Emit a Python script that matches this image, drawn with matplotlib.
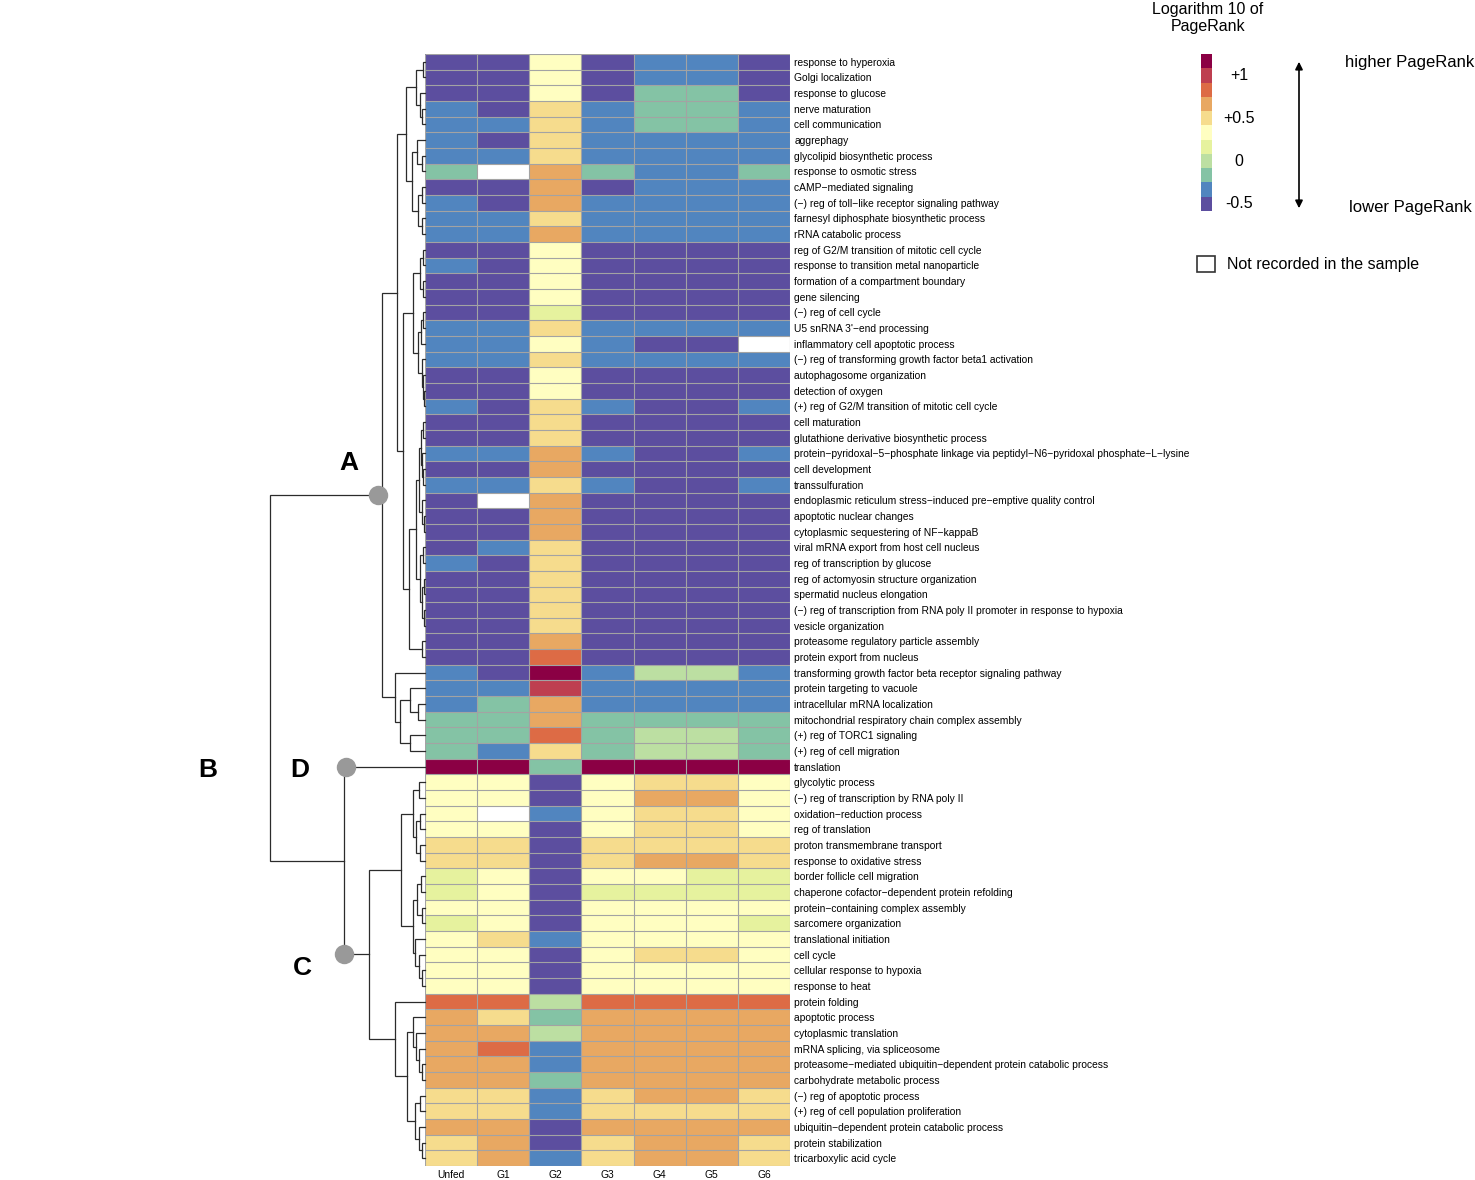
import numpy as np
import matplotlib
matplotlib.use("Agg")
import matplotlib.pyplot as plt
import matplotlib.transforms as mtransforms
from matplotlib.colors import ListedColormap, BoundaryNorm
from matplotlib.patches import Rectangle, FancyArrowPatch

plt.rcParams['font.family'] = ['Liberation Sans', 'DejaVu Sans']

# samples (columns) and GO terms (rows, top to bottom)
samples = ["Unfed", "G1", "G2", "G3", "G4", "G5", "G6"]
terms = [
    "response to hyperoxia",
    "Golgi localization",
    "response to glucose",
    "nerve maturation",
    "cell communication",
    "aggrephagy",
    "glycolipid biosynthetic process",
    "response to osmotic stress",
    "cAMP−mediated signaling",
    "(−) reg of toll−like receptor signaling pathway",
    "farnesyl diphosphate biosynthetic process",
    "rRNA catabolic process",
    "reg of G2/M transition of mitotic cell cycle",
    "response to transition metal nanoparticle",
    "formation of a compartment boundary",
    "gene silencing",
    "(−) reg of cell cycle",
    "U5 snRNA 3'−end processing",
    "inflammatory cell apoptotic process",
    "(−) reg of transforming growth factor beta1 activation",
    "autophagosome organization",
    "detection of oxygen",
    "(+) reg of G2/M transition of mitotic cell cycle",
    "cell maturation",
    "glutathione derivative biosynthetic process",
    "protein−pyridoxal−5−phosphate linkage via peptidyl−N6−pyridoxal phosphate−L−lysine",
    "cell development",
    "transsulfuration",
    "endoplasmic reticulum stress−induced pre−emptive quality control",
    "apoptotic nuclear changes",
    "cytoplasmic sequestering of NF−kappaB",
    "viral mRNA export from host cell nucleus",
    "reg of transcription by glucose",
    "reg of actomyosin structure organization",
    "spermatid nucleus elongation",
    "(−) reg of transcription from RNA poly II promoter in response to hypoxia",
    "vesicle organization",
    "proteasome regulatory particle assembly",
    "protein export from nucleus",
    "transforming growth factor beta receptor signaling pathway",
    "protein targeting to vacuole",
    "intracellular mRNA localization",
    "mitochondrial respiratory chain complex assembly",
    "(+) reg of TORC1 signaling",
    "(+) reg of cell migration",
    "translation",
    "glycolytic process",
    "(−) reg of transcription by RNA poly II",
    "oxidation−reduction process",
    "reg of translation",
    "proton transmembrane transport",
    "response to oxidative stress",
    "border follicle cell migration",
    "chaperone cofactor−dependent protein refolding",
    "protein−containing complex assembly",
    "sarcomere organization",
    "translational initiation",
    "cell cycle",
    "cellular response to hypoxia",
    "response to heat",
    "protein folding",
    "apoptotic process",
    "cytoplasmic translation",
    "mRNA splicing, via spliceosome",
    "proteasome−mediated ubiquitin−dependent protein catabolic process",
    "carbohydrate metabolic process",
    "(−) reg of apoptotic process",
    "(+) reg of cell population proliferation",
    "ubiquitin−dependent protein catabolic process",
    "protein stabilization",
    "tricarboxylic acid cycle",
]

nan = np.nan
# log10 PageRank, one row per term, columns = samples (nan = not recorded)
log_pagerank = [
    [-0.5, -0.5, 0.33, -0.5, -0.33, -0.33, -0.5],
    [-0.5, -0.5, 0.33, -0.5, -0.33, -0.33, -0.5],
    [-0.5, -0.5, 0.33, -0.5, -0.17, -0.17, -0.5],
    [-0.33, -0.5, 0.5, -0.33, -0.17, -0.17, -0.33],
    [-0.33, -0.33, 0.5, -0.33, -0.17, -0.17, -0.33],
    [-0.33, -0.5, 0.5, -0.33, -0.33, -0.33, -0.33],
    [-0.33, -0.33, 0.5, -0.33, -0.33, -0.33, -0.33],
    [-0.17, nan, 0.67, -0.17, -0.33, -0.33, -0.17],
    [-0.5, -0.5, 0.67, -0.5, -0.33, -0.33, -0.33],
    [-0.33, -0.5, 0.67, -0.33, -0.33, -0.33, -0.33],
    [-0.33, -0.33, 0.5, -0.33, -0.33, -0.33, -0.33],
    [-0.33, -0.33, 0.67, -0.33, -0.33, -0.33, -0.33],
    [-0.5, -0.5, 0.33, -0.5, -0.5, -0.5, -0.5],
    [-0.33, -0.5, 0.33, -0.5, -0.5, -0.5, -0.5],
    [-0.5, -0.5, 0.33, -0.5, -0.5, -0.5, -0.5],
    [-0.5, -0.5, 0.33, -0.5, -0.5, -0.5, -0.5],
    [-0.5, -0.5, 0.17, -0.5, -0.5, -0.5, -0.5],
    [-0.33, -0.33, 0.5, -0.33, -0.33, -0.33, -0.33],
    [-0.33, -0.33, 0.33, -0.33, -0.5, -0.5, nan],
    [-0.33, -0.33, 0.5, -0.33, -0.33, -0.33, -0.33],
    [-0.5, -0.5, 0.33, -0.5, -0.5, -0.5, -0.5],
    [-0.5, -0.5, 0.33, -0.5, -0.5, -0.5, -0.5],
    [-0.33, -0.5, 0.5, -0.33, -0.5, -0.5, -0.33],
    [-0.5, -0.5, 0.5, -0.5, -0.5, -0.5, -0.5],
    [-0.5, -0.5, 0.5, -0.5, -0.5, -0.5, -0.5],
    [-0.33, -0.33, 0.67, -0.33, -0.5, -0.5, -0.33],
    [-0.5, -0.5, 0.67, -0.5, -0.5, -0.5, -0.5],
    [-0.33, -0.33, 0.5, -0.33, -0.5, -0.5, -0.33],
    [-0.5, nan, 0.67, -0.5, -0.5, -0.5, -0.5],
    [-0.5, -0.5, 0.67, -0.5, -0.5, -0.5, -0.5],
    [-0.5, -0.5, 0.67, -0.5, -0.5, -0.5, -0.5],
    [-0.5, -0.33, 0.5, -0.5, -0.5, -0.5, -0.5],
    [-0.33, -0.5, 0.5, -0.5, -0.5, -0.5, -0.5],
    [-0.5, -0.5, 0.5, -0.5, -0.5, -0.5, -0.5],
    [-0.5, -0.5, 0.5, -0.5, -0.5, -0.5, -0.5],
    [-0.5, -0.5, 0.5, -0.5, -0.5, -0.5, -0.5],
    [-0.5, -0.5, 0.5, -0.5, -0.5, -0.5, -0.5],
    [-0.5, -0.5, 0.67, -0.5, -0.5, -0.5, -0.5],
    [-0.5, -0.5, 0.83, -0.5, -0.5, -0.5, -0.5],
    [-0.33, -0.5, 1.17, -0.33, 0.0, 0.0, -0.33],
    [-0.33, -0.33, 1.0, -0.33, -0.33, -0.33, -0.33],
    [-0.33, -0.17, 0.67, -0.33, -0.33, -0.33, -0.33],
    [-0.17, -0.17, 0.67, -0.17, -0.17, -0.17, -0.17],
    [-0.17, -0.17, 0.83, -0.17, 0.0, 0.0, -0.17],
    [-0.17, -0.33, 0.5, -0.17, 0.0, 0.0, -0.17],
    [1.17, 1.17, -0.17, 1.17, 1.17, 1.17, 1.17],
    [0.33, 0.33, -0.5, 0.33, 0.5, 0.5, 0.33],
    [0.33, 0.33, -0.5, 0.33, 0.67, 0.67, 0.33],
    [0.33, nan, -0.33, 0.33, 0.5, 0.5, 0.33],
    [0.33, 0.33, -0.5, 0.33, 0.5, 0.5, 0.33],
    [0.5, 0.5, -0.5, 0.5, 0.5, 0.5, 0.5],
    [0.5, 0.5, -0.5, 0.5, 0.67, 0.67, 0.5],
    [0.17, 0.33, -0.5, 0.33, 0.33, 0.17, 0.17],
    [0.17, 0.33, -0.5, 0.17, 0.17, 0.17, 0.17],
    [0.33, 0.33, -0.5, 0.33, 0.33, 0.33, 0.33],
    [0.17, 0.33, -0.5, 0.33, 0.33, 0.33, 0.17],
    [0.33, 0.5, -0.33, 0.33, 0.33, 0.33, 0.33],
    [0.33, 0.33, -0.5, 0.33, 0.5, 0.5, 0.33],
    [0.33, 0.33, -0.5, 0.33, 0.33, 0.33, 0.33],
    [0.33, 0.33, -0.5, 0.33, 0.33, 0.33, 0.33],
    [0.83, 0.83, 0.0, 0.83, 0.83, 0.83, 0.83],
    [0.67, 0.5, -0.17, 0.67, 0.67, 0.67, 0.67],
    [0.67, 0.67, 0.0, 0.67, 0.67, 0.67, 0.67],
    [0.67, 0.83, -0.33, 0.67, 0.67, 0.67, 0.67],
    [0.67, 0.67, -0.33, 0.67, 0.67, 0.67, 0.67],
    [0.67, 0.67, -0.17, 0.67, 0.67, 0.67, 0.67],
    [0.5, 0.5, -0.33, 0.5, 0.67, 0.67, 0.5],
    [0.5, 0.5, -0.33, 0.5, 0.5, 0.5, 0.5],
    [0.67, 0.67, -0.5, 0.67, 0.67, 0.67, 0.67],
    [0.5, 0.67, -0.5, 0.5, 0.67, 0.67, 0.5],
    [0.5, 0.67, -0.33, 0.5, 0.67, 0.67, 0.5],
]

# row dendrogram: (merge height, left, right), leaves = row number (1-based)
tree_A = (43,
          (28,
           (19,
            (9, (2, 1, 2), (5, 3, (3, 4, 5))),
            (13, (8, 6, (3, 7, 8)), (7, (3, 9, 10), (3, 11, 12)))),
           (22,
            (12, (5, (2, 13, 14), (2, 15, 16)),
             (7, (4, (2, 17, 18), 19),
              (3.5, 20, (2.5, 21, (1.5, 22, 23))))),
            (16,
             (9,
              (6, (4, (2, 24, 25), (3, 26, (2, 27, 28))),
               (3, 29, (1.5, 30, 31))),
              (5, (2, 32, 33), (3, (1.5, 34, 35), (1.5, 36, 37)))),
             (3, 38, 39)))),
          (30, 40,
           (25, (15, 41, (7, 42, 43)), (15, 44, 45))))
tree_C = (56,
          (24,
           (12, (6, 47, 48), (9, (5, 49, 50), (5, 51, 52))),
           (12.5, (8, (4, 53, 54), (3, 55, 56)),
            (10, 57, (6, 58, (3, 59, 60))))),
          (30, 61,
           (18,
            (12, 62, (9, 63, (6, 64, (3, 65, 66)))),
            (10, (5, 67, 68), (6, 69, (3, 70, 71))))))
tree_D = (81, 46, tree_C)
tree_root = (155, tree_A, tree_D)

legend_ticks = [1.0, 0.5, 0.0, -0.5]
legend_tick_labels = ["+1", "+0.5", "0", "-0.5"]

colors = ["#5C4E9F", "#5185BF", "#84C3A5", "#BCDFA2", "#E6F29E", "#FFFEC1",
          "#F6DC8D", "#E8A862", "#DD6B45", "#BE3F50", "#8B0044"]
bounds = np.linspace(-7 / 12, 15 / 12, 12)
cmap = ListedColormap(colors)
cmap.set_bad("white")
norm = BoundaryNorm(bounds, cmap.N)

W, H = 1475, 1180
fig = plt.figure(figsize=(W / 100, H / 100), dpi=100)


def fx(px):
    return px / W


def fy(py):
    return 1 - py / H


grid_col = "#A3A3A3"
data = np.ma.masked_invalid(np.array(log_pagerank))
n_rows, n_cols = data.shape

# heatmap
ax = fig.add_axes([fx(425), fy(1166), fx(790) - fx(425), fy(54) - fy(1166)])
ax.set_facecolor("white")
ax.pcolormesh(np.arange(n_cols + 1), np.arange(n_rows + 1), data,
              cmap=cmap, norm=norm)
ax.hlines(np.arange(n_rows + 1), 0, n_cols, color=grid_col, lw=0.8)
ax.vlines(np.arange(n_cols + 1), 0, n_rows, color=grid_col, lw=0.8)
ax.set_xlim(0, n_cols)
ax.set_ylim(n_rows, 0)
for s in ax.spines.values():
    s.set_visible(False)
ax.yaxis.tick_right()
ax.set_yticks(np.arange(n_rows) + 0.5)
ax.set_yticklabels(terms)
ax.set_xticks(np.arange(n_cols) + 0.5)
ax.set_xticklabels(samples)
ax.tick_params(axis="y", length=0, pad=3, labelsize=7.4)
ax.tick_params(axis="x", length=0, pad=3, labelsize=7.4)

# dendrogram
axd = fig.add_axes([fx(270), fy(1166), fx(425) - fx(270), fy(54) - fy(1166)],
                   sharey=ax)
axd.set_xlim(tree_root[0], 0)
axd.axis("off")


def node_pos(node):
    if isinstance(node, int):
        return 0.0, node - 0.5
    h, left, right = node
    return h, (node_pos(left)[1] + node_pos(right)[1]) / 2


def draw_tree(node):
    if isinstance(node, int):
        return 0.0, node - 0.5
    h, left, right = node
    h1, y1 = draw_tree(left)
    h2, y2 = draw_tree(right)
    axd.plot([h1, h, h, h2], [y1, y1, y2, y2], color="#2b2b2b", lw=0.9,
             solid_joinstyle="miter", clip_on=False)
    return h, (y1 + y2) / 2


draw_tree(tree_root)

hA, yA = node_pos(tree_A)
hC, yC = node_pos(tree_C)
marks = [(hA + 4, yA), (tree_D[0] - 2, 46 - 0.5), (tree_D[0], yC)]
for h, y in marks:
    axd.plot(h, y, "o", ms=14, color="#999999", mec="none", clip_on=False,
             zorder=5)

for letter, px, py in [("A", 349, 463), ("B", 208, 770), ("D", 300, 770),
                       ("C", 302, 968)]:
    fig.text(fx(px), fy(py), letter, fontsize=19, fontweight="bold",
             ha="center", va="center")

# legend
fig.text(fx(1208), fy(18), "Logarithm 10 of\nPageRank", fontsize=11.5,
         ha="center", va="center", linespacing=1.1)
cax = fig.add_axes([fx(1201), fy(211), fx(1212) - fx(1201), fy(54) - fy(211)])
sm = plt.cm.ScalarMappable(norm=norm, cmap=cmap)
cb = fig.colorbar(sm, cax=cax)
cb.outline.set_visible(False)
cb.set_ticks([])
cb.minorticks_off()
cax.tick_params(which="both", length=0, labelright=False)
trans = mtransforms.blended_transform_factory(cax.transAxes, cax.transData)
for v, lab in zip(legend_ticks, legend_tick_labels):
    cax.text(3.45, v, lab, transform=trans, ha="center", va="center",
             fontsize=11.5)

fig.add_artist(FancyArrowPatch((fx(1299), fy(211)), (fx(1299), fy(59)),
                               transform=fig.transFigure,
                               arrowstyle="<|-|>", mutation_scale=11,
                               color="black", lw=1.2))
fig.text(fx(1410), fy(63), "higher PageRank", fontsize=12, ha="center",
         va="center")
fig.text(fx(1410), fy(207), "lower PageRank", fontsize=12, ha="center",
         va="center")

fig.add_artist(Rectangle((fx(1197), fy(272)), fx(1215) - fx(1197),
                         fy(256) - fy(272), transform=fig.transFigure,
                         facecolor="white", edgecolor="#333333", lw=1.2))
fig.text(fx(1227), fy(264), "Not recorded in the sample", fontsize=11.5,
         ha="left", va="center")

fig.savefig("out.png", dpi=100)
